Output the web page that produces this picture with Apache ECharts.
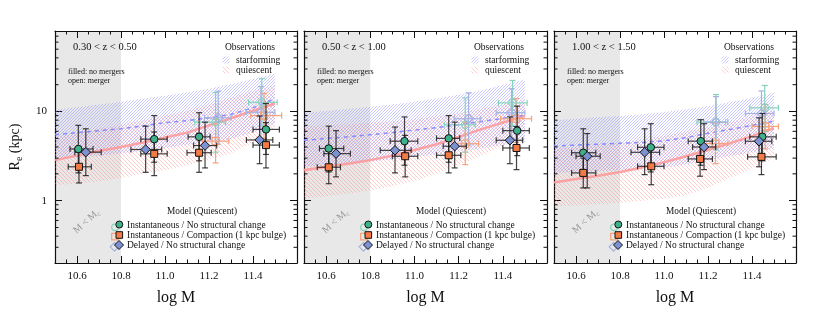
<!DOCTYPE html>
<html><head><meta charset="utf-8">
<script src="https://cdn.jsdelivr.net/npm/echarts@6/dist/echarts.min.js"></script>
<style>html,body{margin:0;padding:0;background:#fff}#c{width:830px;height:312px}</style>
</head><body><div id="c"></div>
<script>
// ---------------- data ----------------
const zLabels = ['0.30 < z < 0.50', '0.50 < z < 1.00', '1.00 < z < 1.50'];
const massRange = [10.5, 11.6];
const sizeRange = [0.2, 80];
const massLimit = [10.8, 10.8, 10.8];
const xTickLabels = [10.6, 10.8, 11.0, 11.2, 11.4];
const yTickLabels = [1, 10];
const yMinorTicks = [0.3,0.4,0.5,0.6,0.7,0.8,0.9,2,3,4,5,6,7,8,9,20,30,40,50,60,70];

// observation bands (log M grid)
const massGrid = [10.5,10.6,10.7,10.8,10.9,11.0,11.1,11.2,11.3,11.4,11.5];
const sfLo1  = [2.9,3.05,3.2,3.4,3.6,3.9,4.2,4.5,4.9,5.8,7.3];
const sfMed1 = [5.5,5.8,6.1,6.4,6.9,7.5,7.9,8.5,9.3,11.0,13.9];
const sfHi1  = [10.5,11.2,12.0,12.9,14.0,15.0,16.4,18.0,20.3,23.2,26.7];
const qLo1   = [1.5,1.55,1.65,1.8,2.0,2.2,2.5,2.9,3.4,4.5,6.6];
const qMed1  = [2.85,3.2,3.6,4.0,4.5,5.1,5.8,7.0,8.4,10.2,12.3];
const qHi1   = [5.1,5.7,6.4,7.1,8.0,9.0,10.2,12.0,14.3,17.0,19.6];

const sfLo2  = [2.4,2.5,2.6,2.75,2.9,3.1,3.3,3.55,3.85,4.2,4.6];
const sfMed2 = [4.75,5.0,5.2,5.5,5.8,6.2,6.6,7.1,7.7,8.4,9.1];
const sfHi2  = [9.7,10.2,10.7,11.3,12.0,12.9,14.0,15.4,17.2,19.8,22.9];
const qLo2   = [1.05,1.12,1.2,1.3,1.45,1.65,2.0,2.5,3.2,4.1,5.3];
const qMed2  = [2.2,2.4,2.6,2.85,3.2,3.7,4.3,5.2,6.3,7.5,8.9];
const qHi2   = [6.8,7.0,7.2,7.5,7.8,8.2,8.8,9.6,10.7,12.0,13.6];

const sfLo3  = [2.05,2.1,2.15,2.2,2.25,2.35,2.55,2.85,3.15,3.5,3.9];
const sfMed3 = [4.1,4.2,4.3,4.4,4.5,4.7,5.1,5.7,6.3,7.0,7.8];
const sfHi3  = [8.0,8.3,8.6,8.9,9.3,9.9,10.6,11.5,12.7,14.3,16.2];
const qLo3   = [0.86,0.88,0.91,0.95,1.0,1.05,1.15,1.4,1.8,2.3,3.0];
const qMed3  = [1.6,1.75,1.9,2.1,2.35,2.7,3.15,3.7,4.4,5.3,6.5];
const qHi3   = [3.8,4.0,4.2,4.5,4.9,5.3,5.9,6.6,7.6,8.9,10.5];

// model points: [logM, Re, logM_lo, logM_hi, Re_lo, Re_hi]
const instNo_f1   = [[10.606,3.8,10.568,10.673,2.05,7.0],[10.951,4.9,10.89,11.01,2.7,9.0],[11.155,5.2,11.105,11.205,2.8,9.7],[11.459,6.3,11.40,11.52,3.3,12.3]];
const instComp_f1 = [[10.609,2.4,10.56,10.665,1.58,3.6],[10.951,3.35,10.89,11.01,1.91,5.9],[11.155,3.45,11.10,11.21,2.08,5.7],[11.459,4.2,11.40,11.52,2.33,7.5]];
const delayed_f1  = [[10.64,3.5,10.59,10.71,1.91,6.4],[10.912,3.75,10.845,10.985,2.08,6.85],[11.182,4.15,11.13,11.235,2.33,7.6],[11.43,4.8,11.37,11.49,2.6,8.9]];
const instNo_o1   = [[11.23,7.6,11.135,11.275,3.5,16.3],[11.44,12.7,11.38,11.51,6.9,23.3]];
const instComp_o1 = [[11.23,4.65,11.17,11.29,2.65,8.1],[11.45,9.0,11.39,11.53,5.0,16]];
const delayed_o1  = [[11.242,8.5,11.18,11.30,4.3,16.9],[11.436,9.8,11.37,11.50,5.0,19]];

const instNo_f2   = [[10.612,3.85,10.57,10.68,2.1,6.85],[10.955,4.65,10.89,11.015,2.5,8.7],[11.155,5.0,11.10,11.205,2.7,9.0],[11.465,6.1,11.40,11.52,3.2,11.5]];
const instComp_f2 = [[10.612,2.37,10.56,10.665,1.55,3.6],[10.958,3.15,10.90,11.015,1.85,5.4],[11.155,3.23,11.10,11.21,2.05,5.2],[11.462,3.9,11.40,11.52,2.23,6.8]];
const delayed_f2  = [[10.645,3.37,10.59,10.71,1.85,6.1],[10.912,3.67,10.845,10.985,2.05,6.7],[11.182,4.08,11.13,11.235,2.33,7.6],[11.432,4.76,11.37,11.49,2.6,8.7]];
const instNo_o2   = [[11.23,7.1,11.135,11.275,3.5,14.2],[11.444,12.5,11.38,11.51,6.8,22.3]];
const instComp_o2 = [[11.23,4.35,11.17,11.29,2.54,7.6],[11.46,8.3,11.39,11.53,4.5,14]];
const delayed_o2  = [[11.245,8.3,11.18,11.30,4.2,16.2],[11.44,9.7,11.37,11.50,5.0,18]];

const instNo_f3   = [[10.633,3.45,10.58,10.69,1.9,6.4],[10.94,3.97,10.88,11.0,2.1,7.3],[11.167,4.65,11.11,11.22,2.5,8.1],[11.447,5.2,11.39,11.51,2.8,9.5]];
const instComp_f3 = [[10.633,2.05,10.58,10.69,1.39,3.0],[10.942,2.43,10.88,11.0,1.51,3.9],[11.164,2.94,11.11,11.22,1.88,4.6],[11.443,3.1,11.38,11.51,1.96,4.9]];
const delayed_f3  = [[10.651,3.15,10.60,10.71,1.39,5.66],[10.912,3.49,10.85,10.98,1.96,6.4],[11.182,4.0,11.13,11.235,2.23,7.3],[11.432,4.64,11.37,11.49,2.4,8.5]];
const instNo_o3   = [[11.236,7.6,11.15,11.28,3.7,15.5],[11.458,11.0,11.39,11.52,6.0,19.6]];
const instComp_o3 = [[11.234,4.37,11.17,11.29,2.6,7.4],[11.46,6.8,11.40,11.52,3.8,12]];
const delayed_o3  = [[11.236,7.6,11.18,11.29,3.9,14.7],[11.443,9.5,11.37,11.50,5.0,17]];

const modelNames = ['Instantaneous / No structural change', 'Instantaneous / Compaction (1 kpc bulge)', 'Delayed / No structural change'];

// ---------------- styling ----------------
const FONT = '"Liberation Serif", "Times New Roman", serif';
const INK = '#111';
const FILL = ['#3fb089', '#f47b45', '#7b91d1'];
const LIGHT = ['#86d3bb', '#f5a27c', '#a5b2e2'];
const SYMB = ['circle', 'rect', 'diamond'];
const SYMSIZE = [7.5, 7, 9.5];

function hatch(color, dir, step) {
  const c = document.createElement('canvas');
  c.width = step; c.height = step;
  const g = c.getContext('2d');
  g.strokeStyle = color; g.lineWidth = 1;
  g.beginPath();
  if (dir > 0) {
    g.moveTo(0, step); g.lineTo(step, 0);
    g.moveTo(-1, 1); g.lineTo(1, -1);
    g.moveTo(step - 1, step + 1); g.lineTo(step + 1, step - 1);
  } else {
    g.moveTo(0, 0); g.lineTo(step, step);
    g.moveTo(step - 1, -1); g.lineTo(step + 1, 1);
    g.moveTo(-1, step - 1); g.lineTo(1, step + 1);
  }
  g.stroke();
  return c;
}
const blueHatch = {image: hatch('rgba(120,120,255,0.4)', 1, 3), repeat: 'repeat'};
const redHatch = {image: hatch('rgba(255,120,120,0.38)', -1, 4), repeat: 'repeat'};

const grids = [
  {left: 55, top: 31, width: 242, height: 232},
  {left: 304, top: 31, width: 243, height: 232},
  {left: 554, top: 31, width: 242, height: 232}
];
const panelData = [
  {sf: [sfLo1, sfMed1, sfHi1], q: [qLo1, qMed1, qHi1], f: [instNo_f1, instComp_f1, delayed_f1], o: [instNo_o1, instComp_o1, delayed_o1]},
  {sf: [sfLo2, sfMed2, sfHi2], q: [qLo2, qMed2, qHi2], f: [instNo_f2, instComp_f2, delayed_f2], o: [instNo_o2, instComp_o2, delayed_o2]},
  {sf: [sfLo3, sfMed3, sfHi3], q: [qLo3, qMed3, qHi3], f: [instNo_f3, instComp_f3, delayed_f3], o: [instNo_o3, instComp_o3, delayed_o3]}
];

const fmtX = v => { const t = xTickLabels.find(a => Math.abs(a - v) < 1e-6); return t === undefined ? '' : t.toFixed(1); };
const fmtY = v => { const t = yTickLabels.find(a => Math.abs(a - v) / a < 1e-6); return t === undefined ? '' : String(t); };

const xAxis = [], yAxis = [], series = [], graphic = [];

function axisCommon() {
  return {
    axisLine: {show: true, onZero: false, lineStyle: {color: INK, width: 1.2}},
    axisTick: {show: true, inside: true, length: 7, lineStyle: {color: INK, width: 1}},
    splitLine: {show: false}, minorSplitLine: {show: false}
  };
}

panelData.forEach((P, i) => {
  const xa = 2 * i, ya = 2 * i;
  xAxis.push(Object.assign(axisCommon(), {
    gridIndex: i, type: 'value', min: massRange[0], max: massRange[1], splitNumber: 5, position: 'bottom',
    minorTick: {show: true, splitNumber: 4, length: 3.5, lineStyle: {color: INK}},
    axisLabel: {show: true, margin: 8, fontSize: 11, fontFamily: FONT, color: INK, formatter: fmtX},
    name: 'log M', nameLocation: 'middle', nameGap: 27,
    nameTextStyle: {fontSize: 16, fontFamily: FONT, color: INK}
  }));
  xAxis.push(Object.assign(axisCommon(), {
    gridIndex: i, type: 'value', min: massRange[0], max: massRange[1], splitNumber: 5, position: 'top',
    minorTick: {show: true, splitNumber: 4, length: 3.5, lineStyle: {color: INK}},
    axisLabel: {show: false}
  }));
  yAxis.push(Object.assign(axisCommon(), {
    gridIndex: i, type: 'log', logBase: 10, min: sizeRange[0], max: sizeRange[1], position: 'left',
    minorTick: {show: false},
    axisLabel: {show: i === 0, margin: 8, fontSize: 11, fontFamily: FONT, color: INK, formatter: fmtY},
    name: i === 0 ? '{a|R}{s|e}{a| (kpc)}' : '', nameLocation: 'middle', nameGap: 31,
    nameTextStyle: {fontFamily: FONT, color: INK, rich: {
      a: {fontSize: 14, fontFamily: FONT, color: INK},
      s: {fontSize: 10, fontFamily: FONT, color: INK, verticalAlign: 'bottom', padding: [8, 0, 0, 0]}
    }}
  }));
  yAxis.push(Object.assign(axisCommon(), {
    gridIndex: i, type: 'log', logBase: 10, min: sizeRange[0], max: sizeRange[1], position: 'right',
    minorTick: {show: false}, axisLabel: {show: false}
  }));

  // grey region M < Mc
  series.push({
    type: 'custom', xAxisIndex: xa, yAxisIndex: ya, z: 0, silent: true,
    encode: {x: [0, 1]}, data: [[massRange[0], massLimit[i]]],
    renderItem(params, api) {
      const p1 = api.coord([api.value(0), sizeRange[1]]);
      const p2 = api.coord([api.value(1), sizeRange[0]]);
      return {type: 'rect', shape: {x: p1[0], y: p1[1], width: p2[0] - p1[0], height: p2[1] - p1[1]}, style: {fill: '#e8e8e8'}};
    }
  });

  // y minor ticks (log)
  series.push({
    type: 'custom', xAxisIndex: xa, yAxisIndex: ya, z: 10, silent: true,
    encode: {y: 0}, data: yMinorTicks.map(v => [v]),
    renderItem(params, api) {
      const v = api.value(0);
      const pl = api.coord([massRange[0], v]), pr = api.coord([massRange[1], v]);
      const st = {stroke: INK, lineWidth: 1};
      return {type: 'group', children: [
        {type: 'line', shape: {x1: pl[0], y1: pl[1], x2: pl[0] + 3.5, y2: pl[1]}, style: st},
        {type: 'line', shape: {x1: pr[0], y1: pr[1], x2: pr[0] - 3.5, y2: pr[1]}, style: st}
      ]};
    }
  });

  // bands
  function band(lo, hi, pattern, z) {
    const rows = massGrid.map((m, k) => [m, lo[k], hi[k]]);
    return {
      type: 'custom', xAxisIndex: xa, yAxisIndex: ya, z, silent: true,
      encode: {x: 0, y: [1, 2]}, data: rows,
      renderItem(params, api) {
        if (params.dataIndex !== 0) return null;
        const pts = rows.map(r => api.coord([r[0], r[2]]));
        for (let k = rows.length - 1; k >= 0; k--) pts.push(api.coord([rows[k][0], rows[k][1]]));
        return {type: 'polygon', shape: {points: pts}, style: {fill: pattern, stroke: null}};
      }
    };
  }
  series.push(band(P.q[0], P.q[2], redHatch, 1));
  series.push(band(P.sf[0], P.sf[2], blueHatch, 1));

  series.push({type: 'line', xAxisIndex: xa, yAxisIndex: ya, z: 2, silent: true, showSymbol: false, symbol: 'none',
    data: massGrid.map((m, k) => [m, P.q[1][k]]), lineStyle: {color: 'rgba(255,150,150,0.85)', width: 2.5}});
  series.push({type: 'line', xAxisIndex: xa, yAxisIndex: ya, z: 2, silent: true, showSymbol: false, symbol: 'none',
    data: massGrid.map((m, k) => [m, P.sf[1][k]]), lineStyle: {color: '#8a8aff', width: 1.5, type: [4, 4]}});

  function errBars(rows, color, lw, z) {
    return {
      type: 'custom', xAxisIndex: xa, yAxisIndex: ya, z, silent: true,
      encode: {x: [0, 2, 3], y: [1, 4, 5]}, data: rows,
      renderItem(params, api) {
        const x = api.value(0), y = api.value(1);
        const t = api.coord([x, api.value(5)]), b = api.coord([x, api.value(4)]);
        const l = api.coord([api.value(2), y]), r = api.coord([api.value(3), y]);
        const cap = 3, st = {stroke: color, lineWidth: lw};
        const ln = (x1, y1, x2, y2) => ({type: 'line', shape: {x1, y1, x2, y2}, style: st});
        return {type: 'group', children: [
          ln(t[0], t[1], b[0], b[1]), ln(t[0] - cap, t[1], t[0] + cap, t[1]), ln(b[0] - cap, b[1], b[0] + cap, b[1]),
          ln(l[0], l[1], r[0], r[1]), ln(l[0], l[1] - cap, l[0], l[1] + cap), ln(r[0], r[1] - cap, r[0], r[1] + cap)
        ]};
      }
    };
  }
  function marks(rows, m, open, z) {
    return {type: 'scatter', xAxisIndex: xa, yAxisIndex: ya, z, silent: true, symbol: SYMB[m], symbolSize: SYMSIZE[m],
      data: rows.map(r => [r[0], r[1]]),
      itemStyle: {color: open ? 'rgba(255,255,255,0)' : FILL[m], borderColor: open ? LIGHT[m] : INK, borderWidth: open ? 1.2 : 1, opacity: 1}};
  }
  [0, 1, 2].forEach(m => {
    series.push(errBars(P.o[m], LIGHT[m], 1.2, 3));
    series.push(marks(P.o[m], m, true, 4));
  });
  [0, 1, 2].forEach(m => {
    series.push(errBars(P.f[m], 'rgba(20,20,20,0.8)', 1.2, 5));
    series.push(marks(P.f[m], m, false, 6));
  });

  // texts
  const L = grids[i].left;
  const txt = (x, y, text, size, align, extra) => Object.assign({type: 'text', x, y, silent: true, z: 100,
    style: {text, font: size + 'px ' + FONT, fill: INK, align: align || 'left', verticalAlign: 'middle'}}, extra || {});
  graphic.push(txt(L + 18, 47, zLabels[i], 10.5));
  graphic.push(txt(L + 13, 72, 'filled: no mergers', 8));
  graphic.push(txt(L + 13, 81, 'open: merger', 8));
  graphic.push(txt(L + 195, 47, 'Observations', 9.5, 'center'));
  graphic.push(txt(L + 181, 60, 'starforming', 9.5));
  graphic.push(txt(L + 181, 70, 'quiescent', 9.5));
  graphic.push({type: 'rect', silent: true, z: 100, shape: {x: L + 167.5, y: 56.5, width: 7, height: 7}, style: {fill: blueHatch}});
  graphic.push({type: 'rect', silent: true, z: 100, shape: {x: L + 167.5, y: 66.5, width: 7, height: 7}, style: {fill: redHatch}});
  graphic.push(txt(L + 147, 212, 'Model (Quiescent)', 9.3, 'center'));
  const ly = [225.3, 235.3, 245.3];
  modelNames.forEach((nm, m) => graphic.push(txt(L + 72, ly[m], nm, 9.5)));
  // legend markers
  graphic.push({type: 'circle', silent: true, z: 100, shape: {cx: L + 60, cy: 227.3, r: 3.3}, style: {fill: 'none', stroke: LIGHT[0], lineWidth: 1.2}});
  graphic.push({type: 'circle', silent: true, z: 101, shape: {cx: L + 64.3, cy: 224.5, r: 3.5}, style: {fill: FILL[0], stroke: INK, lineWidth: 1}});
  graphic.push({type: 'rect', silent: true, z: 100, shape: {x: L + 56.7, y: 233.3, width: 6.6, height: 6.6}, style: {fill: 'none', stroke: LIGHT[1], lineWidth: 1.2}});
  graphic.push({type: 'rect', silent: true, z: 101, shape: {x: L + 61, y: 231.7, width: 6.6, height: 6.6}, style: {fill: FILL[1], stroke: INK, lineWidth: 1}});
  const dia = (cx, cy, h) => [[cx, cy - h], [cx + h, cy], [cx, cy + h], [cx - h, cy]];
  graphic.push({type: 'polygon', silent: true, z: 100, shape: {points: dia(L + 59.5, 246.8, 4.3)}, style: {fill: 'none', stroke: LIGHT[2], lineWidth: 1.2}});
  graphic.push({type: 'polygon', silent: true, z: 101, shape: {points: dia(L + 64, 245, 4.5)}, style: {fill: FILL[2], stroke: INK, lineWidth: 1}});
  // M < Mc
  graphic.push({type: 'text', x: L + 31.5, y: 221.5, rotation: 0.72, silent: true, z: 100,
    style: {text: '{a|M < M}{s|c}', align: 'center', verticalAlign: 'middle', rich: {
      a: {fontSize: 10, fontFamily: FONT, fill: '#9a9a9a'},
      s: {fontSize: 7, fontFamily: FONT, fill: '#9a9a9a', verticalAlign: 'bottom', padding: [5, 0, 0, 0]}
    }}});
});

const chart = echarts.init(document.getElementById('c'), null, {renderer: 'canvas'});
chart.setOption({
  animation: false,
  backgroundColor: '#fff',
  grid: grids,
  xAxis, yAxis, series, graphic
});
</script></body></html>
